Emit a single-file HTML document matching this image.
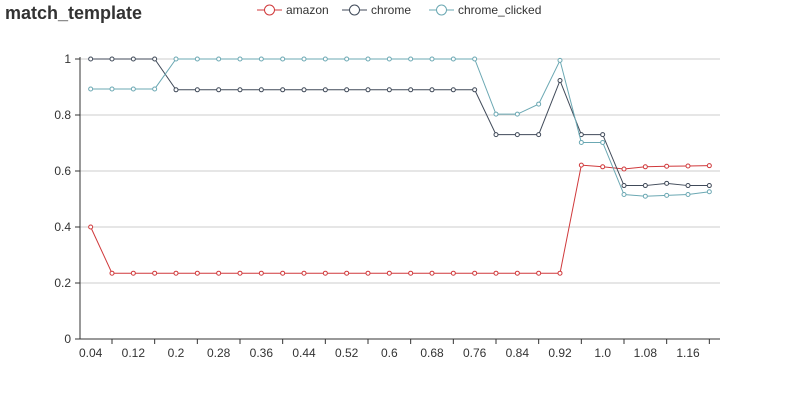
<!DOCTYPE html>
<html><head><meta charset="utf-8"><style>
body{margin:0;background:#fff;width:800px;height:400px;overflow:hidden;font-family:"Liberation Sans","Microsoft YaHei",sans-serif}
</style></head><body>
<svg id="c" width="800" height="400" xmlns="http://www.w3.org/2000/svg"></svg>
<script>
const categories=[];for(let i=1;i<=30;i++)categories.push(+(i*0.04).toFixed(2));
const catLabels=categories.map(v=>String(v).replace(/^1$/,'1.0'));
const amazon=[0.4,0.235,0.235,0.235,0.235,0.235,0.235,0.235,0.235,0.235,0.235,0.235,0.235,0.235,0.235,0.235,0.235,0.235,0.235,0.235,0.235,0.235,0.235,0.621,0.615,0.607,0.615,0.617,0.618,0.619];
const chrome=[1,1,1,1,0.89,0.89,0.89,0.89,0.89,0.89,0.89,0.89,0.89,0.89,0.89,0.89,0.89,0.89,0.89,0.73,0.73,0.73,0.923,0.73,0.73,0.548,0.548,0.556,0.548,0.548];
const chromeClicked=[0.893,0.893,0.893,0.893,1,1,1,1,1,1,1,1,1,1,1,1,1,1,1,0.803,0.803,0.839,0.995,0.702,0.702,0.516,0.51,0.513,0.516,0.526];
const yTicks=[0,0.2,0.4,0.6,0.8,1];
const seriesNames=['amazon','chrome','chrome_clicked'];
const colors=['#d0393b','#404a59','#6ba8b3'];
const L=80,R=720,T=59,B=339;
const svg=document.getElementById('c');const NS='http://www.w3.org/2000/svg';
const bw=(R-L)/categories.length;
const xs=i=>L+bw*(i+0.5);
const ys=v=>B-(v-0)/(1-0)*(B-T);
function mk(t,a,p){const e=document.createElementNS(NS,t);for(const k in a)e.setAttribute(k,a[k]);(p||svg).appendChild(e);return e;}
const title=mk('text',{x:5,y:19,'font-size':18,'font-weight':'bold',fill:'#333'});title.textContent='match_template';


yTicks.forEach(v=>{
 const g=mk('line',{x1:L,x2:R,y1:ys(v),y2:ys(v),stroke:v===0?'#333':'#ccc','stroke-width':1});
 
 
 mk('line',{x1:L-5,x2:L,y1:ys(v),y2:ys(v),stroke:'#333'});
 const t=mk('text',{x:L-9,y:ys(v)+4,'text-anchor':'end','font-size':12,fill:'#333'});t.textContent=String(v);
 
 
});
const ya=mk('line',{x1:L,x2:L,y1:T-2,y2:B,stroke:'#333'});


const xa=mk('line',{x1:L,x2:R,y1:B,y2:B,stroke:'#333'});


categories.forEach((c,i)=>{if(i%2===1){mk('line',{x1:xs(i),x2:xs(i),y1:B,y2:B+5,stroke:'#333'});}});
categories.forEach((c,i)=>{if(i%2)return;
 const t=mk('text',{x:xs(i),y:B+18,'text-anchor':'middle','font-size':12,fill:'#333'});t.textContent=catLabels[i];
 
 
});
[amazon,chrome,chromeClicked].forEach((d,s)=>{
 const g=mk('g',{});
 
 
 mk('polyline',{points:d.map((v,i)=>xs(i)+','+ys(v)).join(' '),fill:'none',stroke:colors[s],'stroke-width':1},g);
 d.forEach((v,i)=>{const p=mk('circle',{cx:xs(i),cy:ys(v),r:2,fill:'#fff',stroke:colors[s],'stroke-width':1},g);
  
  });
});
const lx=[257,342,429];
seriesNames.forEach((n,s)=>{
 const g=mk('g',{});
 
 
 mk('line',{x1:lx[s],x2:lx[s]+25,y1:10,y2:10,stroke:colors[s],'stroke-width':1},g);
 mk('circle',{cx:lx[s]+12.5,cy:10,r:5,fill:'#fff',stroke:colors[s],'stroke-width':1},g);
 const t=mk('text',{x:lx[s]+29,y:14,'font-size':12,fill:'#333'},g);t.textContent=n;
});
</script>
</body></html>
